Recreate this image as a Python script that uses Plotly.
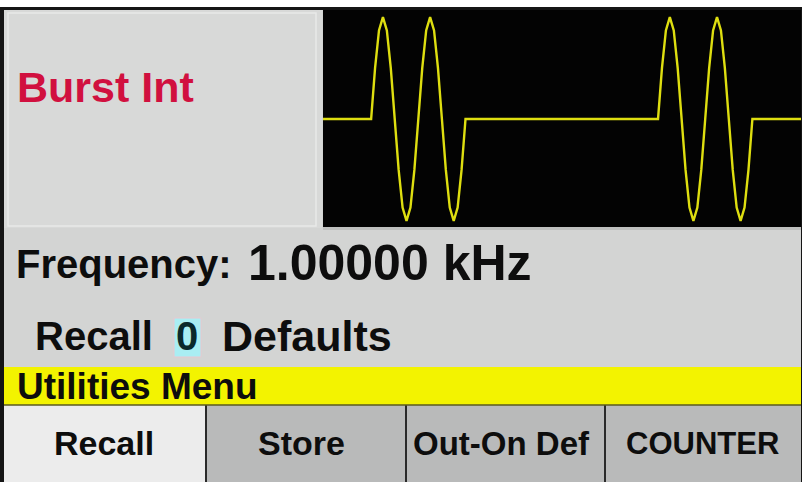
import plotly.graph_objects as go

# ---------------- data ----------------
# waveform: one burst = two cycles of a 1 kHz sine, samples every 1/12 ms (relative amplitude)
burst_samples = [0, 0.5, 0.87, 1, 0.87, 0.5, 0, -0.5, -0.87, -1, -0.87, -0.5,
                 0, 0.5, 0.87, 1, 0.87, 0.5, 0, -0.5, -0.87, -1, -0.87, -0.5, 0]
sample_step_ms = 1 / 12
burst_starts_ms = [1.02, 7.10]
screen_span_ms = [0.0, 10.13]

title_text = "Burst Int"
freq_label = "Frequency:"
freq_value = "1.00000 kHz"
recall_parts = ["Recall", "0", "Defaults"]
menu_title = "Utilities Menu"
softkeys = ["Recall", "Store", "Out-On Def", "COUNTER"]

# ---------------- build trace ----------------
t, v = [screen_span_ms[0]], [0]
for s in burst_starts_ms:
    for i, a in enumerate(burst_samples):
        t.append(s + i * sample_step_ms)
        v.append(a)
t.append(screen_span_ms[1])
v.append(0)

W, H = 802, 482


def px(x):
    return x / W


def py(y):
    return 1 - y / H


fig = go.Figure()
fig.add_trace(go.Scatter(x=t, y=v, mode="lines",
                         line=dict(color="#dede10", width=2.4),
                         hoverinfo="skip", showlegend=False))

shapes = []


def rect(x0, y0, x1, y1, fill, line_color=None, lw=0, layer="below"):
    shapes.append(dict(type="rect", xref="paper", yref="paper",
                       x0=px(x0), x1=px(x1), y0=py(y1), y1=py(y0),
                       fillcolor=fill, layer=layer,
                       line=dict(width=lw, color=line_color or fill)))


# frame
rect(0, 7, 802, 482, "#151515")
rect(4, 10, 801, 482, "#d3d4d3")
# left panel (slightly lighter) with inset lines
rect(4, 10, 322, 228, "#d8d9d8")
rect(8, 13, 316, 226, "rgba(0,0,0,0)", "#e8e9e8", 1.5)
# screen
rect(323, 10, 801, 228, "#030303")
rect(323, 227, 801, 230, "#bfc0bf")
# yellow bar
rect(4, 367, 801, 405, "#f3f300")
# softkeys
rect(4, 405, 206, 482, "#ececec")
rect(206, 405, 406, 482, "#b9baba")
rect(406, 405, 605, 482, "#b9baba")
rect(605, 405, 801, 482, "#b9baba")
for xd in [206, 406, 605]:
    shapes.append(dict(type="line", xref="paper", yref="paper",
                       x0=px(xd), x1=px(xd), y0=py(482), y1=py(405),
                       line=dict(color="#2a2a2a", width=2)))
shapes.append(dict(type="line", xref="paper", yref="paper",
                   x0=px(4), x1=px(801), y0=py(405), y1=py(405),
                   line=dict(color="#5a5a20", width=1.5)))
# highlight box around the recall number
rect(174, 318, 201, 357, "#a9eef3", "#e8c8d0", 1)

FONT = "Liberation Sans, Arial, sans-serif"
ann = []


def text(s, x, y, size, color="#0d0d0d", anchor="left"):
    ann.append(dict(text="<b>%s</b>" % s, xref="paper", yref="paper",
                    x=px(x), y=py(y), xanchor=anchor, yanchor="middle",
                    showarrow=False, font=dict(family=FONT, size=size, color=color)))


text(title_text, 15, 87, 43, "#d1103f")
text(freq_label, 14, 264, 40)
text(freq_value, 246, 263, 50)
text(recall_parts[0], 33, 336, 40)
text(recall_parts[1], 187, 336, 40, "#0b2a2c", anchor="center")
text(recall_parts[2], 220, 336, 43)
text(menu_title, 15, 386, 37)
centers = [104, 301, 501, 702]
sizes = [34, 34, 33, 31]
for s, c, fs in zip(softkeys, centers, sizes):
    text(s, c, 443, fs, anchor="center")

fig.update_layout(
    width=W, height=H, margin=dict(l=0, r=0, t=0, b=0),
    paper_bgcolor="#ffffff", plot_bgcolor="rgba(0,0,0,0)",
    shapes=shapes, annotations=ann,
    xaxis=dict(domain=[px(323), px(801)], range=screen_span_ms, visible=False, fixedrange=True),
    yaxis=dict(domain=[py(228), py(10)], range=[-1.07, 1.07], visible=False, fixedrange=True),
)

fig.write_html("out.html", config={"displayModeBar": False},
               post_script="document.body.style.margin='0';document.body.style.overflow='hidden';")
